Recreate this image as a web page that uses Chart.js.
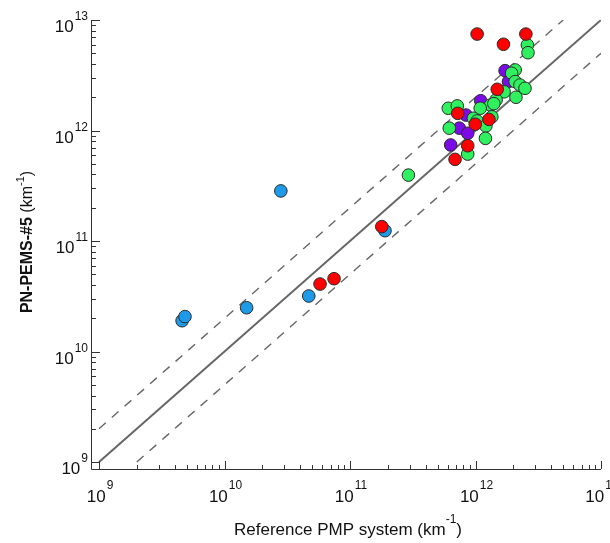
<!DOCTYPE html>
<html><head><meta charset="utf-8">
<script src="https://cdn.jsdelivr.net/npm/chart.js@4.4.0/dist/chart.umd.min.js"></script>
<style>html,body{margin:0;padding:0;background:#fff}#wrap{width:610px;height:543px;position:relative}</style>
</head><body><div id="wrap"><canvas id="c"></canvas></div>
<script>
// ---- data ----
const blueX = [4.59e9, 4.84e9, 1.50e10, 2.81e10, 4.69e10, 1.90e11];
const blueY = [1.90e10, 2.07e10, 2.49e10, 2.84e11, 3.18e10, 1.24e11];

const redX = [5.77e10, 7.46e10, 1.79e11, 1.03e12, 1.67e12, 2.52e12, 1.49e12, 7.21e11, 1.28e12, 9.95e11, 8.67e11, 6.87e11];
const redY = [4.08e10, 4.56e10, 1.35e11, 7.46e12, 6.03e12, 7.46e12, 2.36e12, 1.43e12, 1.26e12, 1.14e12, 7.28e11, 5.48e11];

const purpleX = [1.72e12, 1.83e12, 1.10e12, 8.40e11, 7.43e11, 8.67e11, 6.34e11];
const purpleY = [3.48e12, 2.77e12, 1.86e12, 1.38e12, 1.05e12, 9.44e11, 7.40e11];

const greenX = [2.92e11, 2.59e12, 2.62e12, 2.07e12, 1.94e12, 2.07e12, 2.26e12, 2.48e12, 2.10e12, 1.69e12, 1.46e12, 1.32e12, 1.09e12, 6.07e11, 7.16e11, 9.62e11, 1.03e12, 1.35e12, 1.21e12, 6.18e11, 1.20e12, 8.67e11, 1.40e12];
const greenY = [3.95e11, 5.94e12, 5.06e12, 3.53e12, 3.30e12, 2.77e12, 2.58e12, 2.41e12, 2.00e12, 2.24e12, 1.89e12, 1.70e12, 1.59e12, 1.59e12, 1.67e12, 1.29e12, 1.22e12, 1.33e12, 1.10e12, 1.05e12, 8.49e11, 6.12e11, 1.75e12];

// reference lines: y = ratio * x over the plotted range
const lineRange = [1e9, 1e13];
const lineRatios = [1, 2, 0.5];

// axis ticks
const decadeExponents = [9, 10, 11, 12, 13];
const minorMultipliers = [2, 3, 4, 5, 6, 7, 8, 9];
const xTitleMain = 'Reference PMP system (km';
const yTitleBold = 'PN-PEMS-#5';
const yTitleUnit = '(km';
const unitExp = '-1';

const AXIS_MIN_X = Math.pow(10, 8.936);
const AXIS_MIN_Y = Math.pow(10, 8.937);
const AXIS_MAX = 1e13;

function pts(xs, ys) { return xs.map((x, i) => ({ x: x, y: ys[i] })); }
function refLine(r) {
  const x0 = Math.max(lineRange[0], lineRange[0] / r);
  const x1 = Math.min(lineRange[1], lineRange[1] / r);
  return [{ x: x0, y: x0 * r }, { x: x1, y: x1 * r }];
}

const pointStyle = (color) => ({
  backgroundColor: color, borderColor: '#2b2b2b', borderWidth: 1,
  pointRadius: 6.3, pointHoverRadius: 6.3
});

const datasets = [
  Object.assign({ label: 'red', data: pts(redX, redY) }, pointStyle('#ff0000')),
  Object.assign({ label: 'green', data: pts(greenX, greenY) }, pointStyle('#2ff05e')),
  Object.assign({ label: 'purple', data: pts(purpleX, purpleY) }, pointStyle('#7a0ae6')),
  Object.assign({ label: 'blue', data: pts(blueX, blueY) }, pointStyle('#1e9be8')),
];
lineRatios.forEach((r) => {
  datasets.push({
    label: 'ratio ' + r, data: refLine(r), showLine: true, pointRadius: 0,
    borderColor: '#666666', borderWidth: r === 1 ? 2 : 1.4,
    borderDash: r === 1 ? [] : [9, 8], fill: false
  });
});

const FONT = '"Liberation Sans", Arial, sans-serif';

const axesPlugin = {
  id: 'igorAxes',
  afterDraw(chart) {
    const ctx = chart.ctx, xs = chart.scales.x, ys = chart.scales.y;
    const L = chart.chartArea.left, B = chart.chartArea.bottom, T = chart.chartArea.top, R = chart.chartArea.right;
    ctx.save();
    ctx.strokeStyle = '#333'; ctx.lineWidth = 1;
    ctx.beginPath();
    ctx.moveTo(L + 0.5, T); ctx.lineTo(L + 0.5, B + 0.5); ctx.lineTo(R, B + 0.5);
    ctx.stroke();
    // ticks (inside)
    ctx.beginPath();
    decadeExponents.forEach((e) => {
      const v = Math.pow(10, e);
      const px = Math.round(xs.getPixelForValue(v)) + 0.5;
      ctx.moveTo(px, B); ctx.lineTo(px, B - 8);
      const py = Math.round(ys.getPixelForValue(v)) + 0.5;
      ctx.moveTo(L, py); ctx.lineTo(L + 9, py);
      if (e < 13) {
        minorMultipliers.forEach((m) => {
          const mx = Math.round(xs.getPixelForValue(m * v)) + 0.5;
          ctx.moveTo(mx, B); ctx.lineTo(mx, B - 4);
          const my = Math.round(ys.getPixelForValue(m * v)) + 0.5;
          ctx.moveTo(L, my); ctx.lineTo(L + 5, my);
        });
      }
    });
    ctx.stroke();
    // tick labels
    ctx.fillStyle = '#111';
    const baseFont = '17px ' + FONT;
    const expFont = '12px ' + FONT;
    ctx.textBaseline = 'alphabetic';
    ctx.textAlign = 'left';
    decadeExponents.forEach((e) => {
      const v = Math.pow(10, e);
      ctx.font = baseFont; const wb = ctx.measureText('10').width;
      ctx.font = expFont; const we = ctx.measureText(String(e)).width;
      const tot = wb + we + 1;
      // x
      const px = xs.getPixelForValue(v);
      let sx = px - tot / 2 + 1;
      ctx.font = baseFont; ctx.fillText('10', sx, B + 33);
      ctx.font = expFont; ctx.fillText(String(e), sx + wb + 1, B + 20);
      // y
      const py = ys.getPixelForValue(v);
      sx = L - 3 - tot;
      ctx.font = baseFont; ctx.fillText('10', sx, py + 12);
      ctx.font = expFont; ctx.fillText(String(e), sx + wb + 1, py);
    });
    // x title
    const tf = '17px ' + FONT;
    const tfe = '12px ' + FONT;
    ctx.font = tf; const w1 = ctx.measureText(xTitleMain).width, w3 = ctx.measureText(')').width;
    ctx.font = tfe; const w2 = ctx.measureText(unitExp).width;
    const cx = 348;
    let x0 = cx - (w1 + w2 + w3) / 2;
    const by = 535;
    ctx.font = tf; ctx.fillText(xTitleMain, x0, by);
    ctx.font = tfe; ctx.fillText(unitExp, x0 + w1, by - 12);
    ctx.font = tf; ctx.fillText(')', x0 + w1 + w2, by);
    // y title (rotated)
    ctx.save();
    ctx.translate(32, 242);
    ctx.rotate(-Math.PI / 2);
    const bf = 'bold 16px ' + FONT;
    const nf = '16px ' + FONT;
    const ef = '11px ' + FONT;
    ctx.font = bf; const a = ctx.measureText(yTitleBold + ' ').width;
    ctx.font = nf; const b = ctx.measureText(yTitleUnit).width, d = ctx.measureText(')').width;
    ctx.font = ef; const c = ctx.measureText(unitExp).width;
    let yx = -(a + b + c + d) / 2;
    ctx.font = bf; ctx.fillText(yTitleBold + ' ', yx, 0);
    ctx.font = nf; ctx.fillText(yTitleUnit, yx + a, 0);
    ctx.font = ef; ctx.fillText(unitExp, yx + a + b, -8);
    ctx.font = nf; ctx.fillText(')', yx + a + b + c, 0);
    ctx.restore();
    ctx.restore();
  }
};

new Chart(document.getElementById('c'), {
  type: 'scatter',
  data: { datasets: datasets },
  options: {
    responsive: true, maintainAspectRatio: false, animation: false,
    layout: { padding: { left: 91, top: 20, right: 9, bottom: 74 } },
    plugins: { legend: { display: false }, tooltip: { enabled: false } },
    scales: {
      x: { type: 'logarithmic', display: false, min: AXIS_MIN_X, max: AXIS_MAX, bounds: 'data' },
      y: { type: 'logarithmic', display: false, min: AXIS_MIN_Y, max: AXIS_MAX, bounds: 'data' }
    }
  },
  plugins: [axesPlugin]
});
</script></body></html>
